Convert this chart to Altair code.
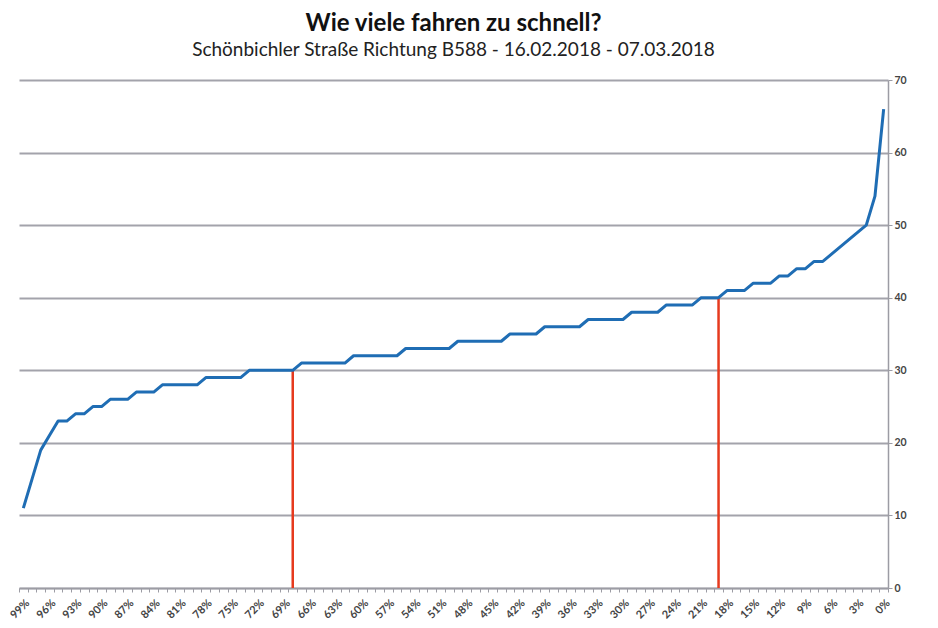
import altair as alt
import pandas as pd

# percent of vehicles faster (category axis, left to right 99% .. 0%)
percent = list(range(99, -1, -1))
# measured speed (km/h) per percentile
speed = [11, 15, 19, 21, 23, 23, 24, 24, 25, 25,
         26, 26, 26, 27, 27, 27, 28, 28, 28, 28,
         28, 29, 29, 29, 29, 29, 30, 30, 30, 30,
         30, 30, 31, 31, 31, 31, 31, 31, 32, 32,
         32, 32, 32, 32, 33, 33, 33, 33, 33, 33,
         34, 34, 34, 34, 34, 34, 35, 35, 35, 35,
         36, 36, 36, 36, 36, 37, 37, 37, 37, 37,
         38, 38, 38, 38, 39, 39, 39, 39, 40, 40,
         40, 41, 41, 41, 42, 42, 42, 43, 43, 44,
         44, 45, 45, 46, 47, 48, 49, 50, 54, 66]

# red marker lines (speed limit 30 and 40)
marker_percent = [68, 19]
marker_speed = [30, 40]

x_label_values = list(range(99, -1, -3))
x_tick_values = [k + 0.5 for k in range(-1, 100)]
y_values = [0, 10, 20, 30, 40, 50, 60, 70]

df = pd.DataFrame({"p": percent, "v": speed})
mk = pd.DataFrame({"p": marker_percent, "v": marker_speed})

FONT = "Lato"
GRID = "#a3a3ab"

y_axis = alt.Axis(orient="right", values=y_values, grid=True, gridColor=GRID,
                  gridWidth=2, domainColor="#9c9ca4", domainWidth=1.5,
                  tickColor="#9c9ca4", tickSize=4, labelFont=FONT,
                  labelFontSize=10.5, labelFontWeight="bold", labelColor="#444",
                  labelPadding=2, title=None)
y_scale = alt.Scale(domain=[0, 70], nice=False, zero=True)

tick_axis = alt.Axis(orient="bottom", values=x_tick_values, labels=False,
                     tickSize=4, tickColor="#9c9ca4", domainColor="#9c9ca4",
                     domainWidth=1.5, grid=False, title=None)
label_axis = alt.Axis(orient="bottom", values=x_label_values,
                      labelExpr="datum.value + '%'", labelAngle=-45,
                      ticks=False, domain=False, grid=False, title=None,
                      labelFont=FONT, labelFontSize=11, labelFontWeight="bold",
                      labelColor="#444", labelPadding=9)

rules = alt.Chart(mk).mark_rule(color="#e63a1e", strokeWidth=2.5).encode(
    x=alt.X("p:Q", scale=alt.Scale(domain=[99.5, -0.5], nice=False, zero=False),
            axis=label_axis),
    y=alt.Y("v:Q", scale=y_scale, axis=y_axis),
    y2=alt.Y2(datum=0),
)

line = alt.Chart(df).mark_line(color="#1f6db4", strokeWidth=3,
                               strokeJoin="round").encode(
    x=alt.X("p:Q", scale=alt.Scale(domain=[99.5, -0.5], nice=False, zero=False),
            axis=tick_axis),
    y=alt.Y("v:Q", scale=y_scale, axis=y_axis),
)

chart = alt.layer(rules, line).resolve_scale(x="independent").resolve_axis(
    x="independent"
).properties(
    width=869,
    height=508,
    autosize=alt.AutoSizeParams(type="none"),
    padding={"left": 11, "top": 72, "right": 42, "bottom": 32},
    title=alt.TitleParams(
        "Wie viele fahren zu schnell?",
        subtitle="Schönbichler Straße Richtung B588 - 16.02.2018 - 07.03.2018",
        font=FONT, fontSize=24, fontWeight="bold", color="#111",
        subtitleFont=FONT, subtitleFontSize=19, subtitleColor="#222",
        subtitlePadding=5, anchor="middle", offset=15,
    ),
).configure_view(strokeWidth=0)

chart.save("out.html", embed_options={"renderer": "svg", "actions": False})
